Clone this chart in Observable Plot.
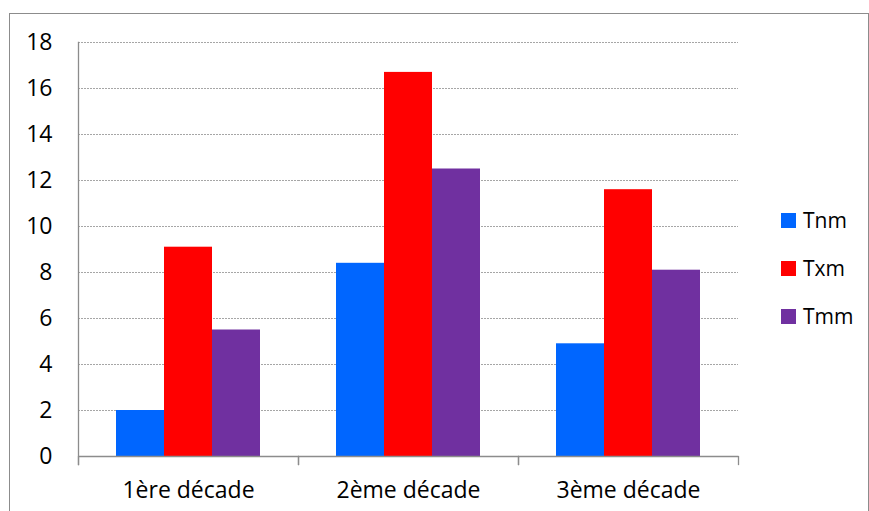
<!DOCTYPE html>
<html>
<head>
<meta charset="utf-8">
<script src="https://cdn.jsdelivr.net/npm/d3@7"></script>
<script src="https://cdn.jsdelivr.net/npm/@observablehq/plot@0.6"></script>
<style>
  html, body { margin: 0; padding: 0; background: #fff; }
  #wrap { position: relative; width: 869px; height: 511px; overflow: hidden; font-family: "Open Sans", sans-serif; }
  #border { position: absolute; left: 9px; top: 13px; width: 858px; height: 540px; border: 1px solid #8c8c8c; box-sizing: content-box; }
  #chart { position: absolute; left: 0; top: 0; }
  .leg { position: absolute; left: 781px; display: flex; align-items: center; font-size: 21px; color: #000; height: 20px; }
  .leg span.sw { display: inline-block; width: 15px; height: 15px; margin-right: 7px; }
</style>
</head>
<body>
<div id="wrap">
  <div id="border"></div>
  <div id="chart"></div>
  <div id="legend"></div>
</div>
<script>
const decades = ["1ère décade", "2ème décade", "3ème décade"];
const series = ["Tnm", "Txm", "Tmm"];
const colors = ["#0066FF", "#FF0000", "#7030A0"];
const Tnm = [2.0, 8.4, 4.9];
const Txm = [9.1, 16.7, 11.6];
const Tmm = [5.5, 12.5, 8.1];
const yTicks = [0, 2, 4, 6, 8, 10, 12, 14, 16, 18];

const valuesBySeries = {Tnm, Txm, Tmm};
const data = [];
decades.forEach((d, i) => series.forEach(s => data.push({decade: d, series: s, value: valuesBySeries[s][i]})));

const chart = Plot.plot({
  width: 869,
  height: 511,
  marginLeft: 78,
  marginRight: 131,
  marginTop: 42,
  marginBottom: 55,
  style: {fontFamily: "'Open Sans', sans-serif", fontSize: "23px", color: "#000", background: "transparent"},
  fx: {domain: decades, padding: 0, label: null},
  x: {domain: series, paddingInner: 0, paddingOuter: 0.76, axis: null},
  y: {domain: [0, 18], label: null},
  color: {domain: series, range: colors},
  marks: [
    Plot.ruleY(yTicks.filter(t => t > 0), {stroke: "#a6a6a6", strokeDasharray: "2,1", strokeWidth: 1}),
    Plot.barY(data, {fx: "decade", x: "series", y: "value", fill: "series"}),
    Plot.ruleY([0], {stroke: "#8c8c8c", strokeWidth: 1.3}),
    Plot.frame({anchor: "left", stroke: "#8c8c8c", strokeWidth: 1.3, insetTop: 414, insetBottom: -8}),
    Plot.frame({anchor: "right", stroke: "#8c8c8c", strokeWidth: 1.3, insetTop: 414, insetBottom: -8}),
    Plot.frame({anchor: "left", fx: [decades[0]], stroke: "#8c8c8c", strokeWidth: 1.3, insetBottom: -8}),
    Plot.axisY(yTicks, {tickSize: 0, tickPadding: 26, label: null, fontSize: 23}),
    Plot.axisFx({anchor: "bottom", tickSize: 0, tickPadding: 25, label: null, fontSize: 23})
  ]
});
document.getElementById("chart").appendChild(chart);

const legend = document.getElementById("legend");
const legTops = [210, 258, 306];
series.forEach((s, i) => {
  const row = document.createElement("div");
  row.className = "leg";
  row.style.top = legTops[i] + "px";
  row.innerHTML = `<span class="sw" style="background:${colors[i]}"></span><span>${s}</span>`;
  legend.appendChild(row);
});
</script>
</body>
</html>
